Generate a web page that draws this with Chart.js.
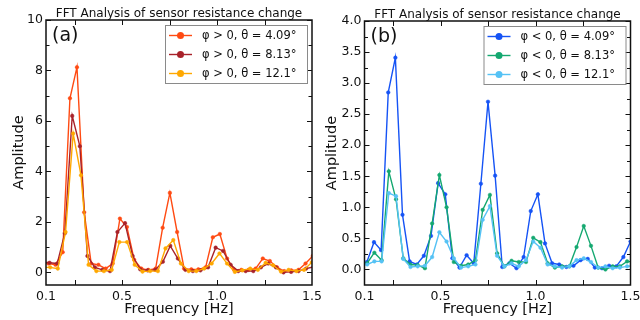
<!DOCTYPE html>
<html>
<head>
<meta charset="utf-8">
<title>FFT Analysis of sensor resistance change</title>
<script src="https://cdn.jsdelivr.net/npm/chart.js@4.4.1/dist/chart.umd.min.js"></script>
<style>
    html, body { margin: 0; padding: 0; background: #fff; overflow: hidden; }
    #wrap { position: relative; width: 640px; height: 320px; overflow: hidden; background: #fff; }
    .panel { position: absolute; top: 0; width: 340px; height: 320px; }
    #panelA { left: 0; }
    #panelB { left: 320px; }
</style>
</head>
<body>
<div id="wrap">
    <div class="panel" id="panelA"><canvas id="chartA" width="340" height="320"></canvas></div>
    <div class="panel" id="panelB"><canvas id="chartB" width="340" height="320"></canvas></div>
</div>

<script>
// ---- data ----
// panel (a): phi > 0
const freqPos409 = [0.075, 0.113, 0.150, 0.188, 0.226, 0.263, 0.301, 0.338, 0.376, 0.414, 0.451, 0.489, 0.526,
    0.564, 0.602, 0.639, 0.677, 0.714, 0.752, 0.790, 0.827, 0.865, 0.902, 0.940, 0.978, 1.015, 1.053,
    1.090, 1.128, 1.166, 1.203, 1.241, 1.278, 1.316, 1.354, 1.391, 1.429, 1.466, 1.504];
const ampPos409 = [0.35, 0.35, 0.30, 0.80, 6.90, 8.13, 2.38, 0.35, 0.30, 0.15, 0.35, 2.13, 1.80,
    0.50, 0.15, 0.10, 0.15, 1.77, 3.15, 1.60, 0.15, 0.12, 0.12, 0.20, 1.39, 1.52, 0.55,
    0.10, 0.10, 0.10, 0.15, 0.55, 0.45, 0.20, 0.05, 0.08, 0.10, 0.35, 0.65];

const freqPos813 = [0.079, 0.119, 0.159, 0.199, 0.238, 0.278, 0.318, 0.357, 0.397, 0.437, 0.476, 0.516, 0.556,
    0.596, 0.635, 0.675, 0.715, 0.754, 0.794, 0.834, 0.873, 0.913, 0.953, 0.993, 1.032, 1.072,
    1.112, 1.151, 1.191, 1.231, 1.270, 1.310, 1.350, 1.390, 1.429, 1.469, 1.509];
const ampPos813 = [0.40, 0.38, 0.35, 1.55, 6.20, 5.00, 0.65, 0.20, 0.10, 0.05, 1.60, 1.95, 0.65,
    0.12, 0.08, 0.10, 0.42, 1.05, 0.55, 0.10, 0.05, 0.08, 0.20, 0.98, 0.85, 0.30,
    0.05, 0.05, 0.05, 0.20, 0.35, 0.20, 0.00, 0.02, 0.05, 0.15, 0.22];

const freqPos121 = [0.081, 0.122, 0.162, 0.203, 0.243, 0.284, 0.324, 0.365, 0.405, 0.446, 0.486, 0.527, 0.567,
    0.608, 0.648, 0.689, 0.729, 0.770, 0.810, 0.851, 0.891, 0.932, 0.972, 1.013, 1.053, 1.094,
    1.134, 1.175, 1.215, 1.256, 1.296, 1.337, 1.377, 1.418, 1.458, 1.499, 1.539];
const ampPos121 = [0.20, 0.20, 0.15, 1.60, 5.50, 3.85, 0.30, 0.05, 0.05, 0.10, 1.20, 1.20, 0.30,
    0.03, 0.05, 0.05, 0.95, 1.28, 0.35, 0.05, 0.05, 0.15, 0.35, 0.75, 0.35, 0.02,
    0.08, 0.15, 0.10, 0.38, 0.28, 0.03, 0.10, 0.05, 0.10, 0.40, 0.50];

// panel (b): phi < 0
const freqNeg409 = [0.075, 0.1125, 0.150, 0.1875, 0.225, 0.2625, 0.300, 0.3375, 0.375, 0.4125, 0.450, 0.4875, 0.525,
    0.5625, 0.600, 0.6375, 0.675, 0.7125, 0.750, 0.7875, 0.825, 0.8625, 0.900, 0.9375, 0.975, 1.0125,
    1.050, 1.0875, 1.125, 1.1625, 1.200, 1.2375, 1.275, 1.3125, 1.350, 1.3875, 1.425, 1.4625, 1.500];
const ampNeg409 = [0.05, 0.12, 0.44, 0.31, 2.85, 3.41, 0.88, 0.13, 0.08, 0.22, 0.54, 1.39, 1.21,
    0.18, 0.03, 0.23, 0.10, 1.38, 2.70, 1.51, 0.04, 0.10, 0.02, 0.20, 0.94, 1.21,
    0.42, 0.10, 0.08, 0.04, 0.06, 0.15, 0.17, 0.03, 0.02, 0.06, 0.05, 0.20, 0.45];

const freqNeg = [0.076, 0.114, 0.152, 0.190, 0.228, 0.266, 0.304, 0.342, 0.380, 0.418, 0.456, 0.494, 0.532,
    0.570, 0.608, 0.646, 0.684, 0.722, 0.760, 0.798, 0.836, 0.874, 0.912, 0.950, 0.988, 1.026,
    1.064, 1.102, 1.140, 1.178, 1.216, 1.254, 1.292, 1.330, 1.368, 1.406, 1.444, 1.482, 1.520];
const ampNeg813 = [0.05, 0.10, 0.27, 0.15, 1.58, 1.13, 0.18, 0.08, 0.07, 0.02, 0.74, 1.52, 1.00,
    0.12, 0.06, 0.08, 0.15, 0.96, 1.20, 0.26, 0.05, 0.14, 0.12, 0.12, 0.51, 0.44,
    0.10, 0.03, 0.05, 0.05, 0.36, 0.70, 0.38, 0.03, 0.00, 0.05, 0.05, 0.13, 0.12];
const ampNeg121 = [0.08, 0.08, 0.13, 0.13, 1.23, 1.18, 0.17, 0.04, 0.05, 0.06, 0.20, 0.60, 0.45,
    0.18, 0.03, 0.05, 0.08, 0.80, 1.02, 0.22, 0.05, 0.10, 0.05, 0.15, 0.45, 0.35,
    0.08, 0.05, 0.03, 0.05, 0.15, 0.18, 0.12, 0.03, 0.05, 0.02, 0.03, 0.05, 0.06];

const labelsPos = ['φ > 0, θ = 4.09°', 'φ > 0, θ = 8.13°', 'φ > 0, θ = 12.1°'];
const labelsNeg = ['φ < 0, θ = 4.09°', 'φ < 0, θ = 8.13°', 'φ < 0, θ = 12.1°'];

// ticks
const xTickLabels = [0.1, 0.5, 1.0, 1.5];
const xTickMarks = [0.25, 0.5, 0.75, 1.0, 1.25];
const yTicksA = [0, 2, 4, 6, 8, 10];
const yMinorA = [1, 3, 5, 7, 9];
const yTicksB = [0, 0.5, 1.0, 1.5, 2.0, 2.5, 3.0, 3.5, 4.0];
const yMinorB = [0.25, 0.75, 1.25, 1.75, 2.25, 2.75, 3.25, 3.75];

const FONT = "'DejaVu Sans', sans-serif";
const TITLE = 'FFT Analysis of sensor resistance change';

Chart.defaults.font.family = FONT;

// frame, inward ticks, titles and the boxed legend, drawn matplotlib style
const framePlugin = {
    id: 'frame',
    afterDraw(chart, args, o) {
        const ctx = chart.ctx;
        const a = chart.chartArea;
        const x = chart.scales.x, y = chart.scales.y;
        ctx.save();

        ctx.strokeStyle = '#111';
        ctx.lineWidth = 1;
        const seg = (x1, y1, x2, y2) => { ctx.beginPath(); ctx.moveTo(x1, y1); ctx.lineTo(x2, y2); ctx.stroke(); };
        xTickMarks.forEach(v => {
            const px = Math.round(x.getPixelForValue(v)) + 0.5;
            seg(px, a.bottom, px, a.bottom - 5);
            seg(px, a.top, px, a.top + 5);
        });
        o.yMajor.concat(o.yMinor).forEach((v, i) => {
            const len = i < o.yMajor.length ? 5 : 3.5;
            const py = Math.round(y.getPixelForValue(v)) + 0.5;
            seg(a.left, py, a.left + len, py);
            seg(a.right, py, a.right - len, py);
        });
        ctx.lineWidth = 1.5;
        ctx.strokeRect(a.left, a.top, a.right - a.left, a.bottom - a.top);

        // title
        ctx.fillStyle = '#111';
        ctx.font = '12px ' + FONT;
        ctx.textAlign = 'center';
        ctx.textBaseline = 'alphabetic';
        ctx.fillText(TITLE, (a.left + a.right) / 2, a.top - 3.5);

        // axis titles
        ctx.font = '14.5px ' + FONT;
        ctx.fillText('Frequency [Hz]', (a.left + a.right) / 2, a.bottom + 28);
        ctx.save();
        ctx.translate(a.left - o.yTitleGap, (a.top + a.bottom) / 2);
        ctx.rotate(-Math.PI / 2);
        ctx.fillText('Amplitude', 0, 0);
        ctx.restore();

        // panel tag
        ctx.font = '19px ' + FONT;
        ctx.textAlign = 'left';
        ctx.fillText(o.tag, a.left + 6, a.top + 21);

        // legend
        const w = 142, h = 58;
        const bx = a.right - 5 - w, by = a.top + 5;
        ctx.fillStyle = '#fff';
        ctx.fillRect(bx, by, w, h);
        ctx.strokeStyle = '#8a8a8a';
        ctx.lineWidth = 1;
        ctx.strokeRect(bx + 0.5, by + 0.5, w, h);
        ctx.font = '11.5px ' + FONT;
        ctx.textBaseline = 'middle';
        chart.data.datasets.forEach((ds, i) => {
            const cy = by + 10.5 + i * 19;
            ctx.strokeStyle = ds.borderColor;
            ctx.lineWidth = 1.4;
            seg(bx + 4, cy, bx + 27, cy);
            ctx.fillStyle = ds.borderColor;
            ctx.beginPath();
            ctx.arc(bx + 15.5, cy, 3.5, 0, Math.PI * 2);
            ctx.fill();
            ctx.fillStyle = '#111';
            ctx.fillText(ds.label, bx + 37, cy + 0.5);
        });
        ctx.restore();
    }
};

function buildChart(id, p) {
    return new Chart(document.getElementById(id), {
        type: 'line',
        data: {
            datasets: p.series.map((s, i) => ({
                label: s.label,
                data: s.freq.map((f, j) => ({ x: f, y: s.amp[j] })),
                borderColor: s.color,
                backgroundColor: s.color,
                pointBackgroundColor: s.color,
                pointBorderColor: s.color,
                borderWidth: 1.4,
                pointRadius: 1.8,
                pointBorderWidth: 0.5,
                tension: 0,
                order: p.series.length - i
            }))
        },
        options: {
            responsive: false,
            animation: false,
            events: [],
            layout: { padding: { top: p.top, right: p.right, left: 0, bottom: 0 } },
            plugins: {
                legend: { display: false },
                tooltip: { enabled: false },
                frame: { tag: p.tag, yMajor: p.yMajor, yMinor: p.yMinor, yTitleGap: p.yTitleGap }
            },
            scales: {
                x: {
                    type: 'linear', min: 0.1, max: 1.5,
                    afterBuildTicks: sc => { sc.ticks = xTickLabels.map(v => ({ value: v })); },
                    afterFit: sc => { sc.height = 35; },
                    grid: { display: false, drawTicks: false },
                    border: { display: false },
                    ticks: {
                        font: { size: 12.5 }, color: '#111', padding: 4,
                        maxRotation: 0, autoSkip: false,
                        callback: v => v.toFixed(1)
                    }
                },
                y: {
                    type: 'linear', min: p.yMin, max: p.yMax,
                    afterBuildTicks: sc => { sc.ticks = p.yMajor.map(v => ({ value: v })); },
                    afterFit: sc => { sc.width = p.left; },
                    grid: { display: false, drawTicks: false },
                    border: { display: false },
                    ticks: {
                        font: { size: 12.5 }, color: '#111', padding: 3,
                        callback: p.yFormat
                    }
                }
            }
        },
        plugins: [framePlugin]
    });
}

buildChart('chartA', {
    tag: '(a)', top: 20, left: 46, right: 28,
    yMin: -0.5, yMax: 10, yMajor: yTicksA, yMinor: yMinorA, yTitleGap: 23,
    yFormat: v => String(v),
    series: [
        { label: labelsPos[0], color: '#ff4a12', freq: freqPos409, amp: ampPos409 },
        { label: labelsPos[1], color: '#a8222a', freq: freqPos813, amp: ampPos813 },
        { label: labelsPos[2], color: '#ffa800', freq: freqPos121, amp: ampPos121 }
    ]
});

buildChart('chartB', {
    tag: '(b)', top: 21, left: 44.5, right: 29.5,
    yMin: -0.25, yMax: 4.0, yMajor: yTicksB, yMinor: yMinorB, yTitleGap: 28.5,
    yFormat: v => v.toFixed(1),
    series: [
        { label: labelsNeg[0], color: '#1553f5', freq: freqNeg409, amp: ampNeg409 },
        { label: labelsNeg[1], color: '#14a870', freq: freqNeg, amp: ampNeg813 },
        { label: labelsNeg[2], color: '#55c2f5', freq: freqNeg, amp: ampNeg121 }
    ]
});
</script>
</body>
</html>
